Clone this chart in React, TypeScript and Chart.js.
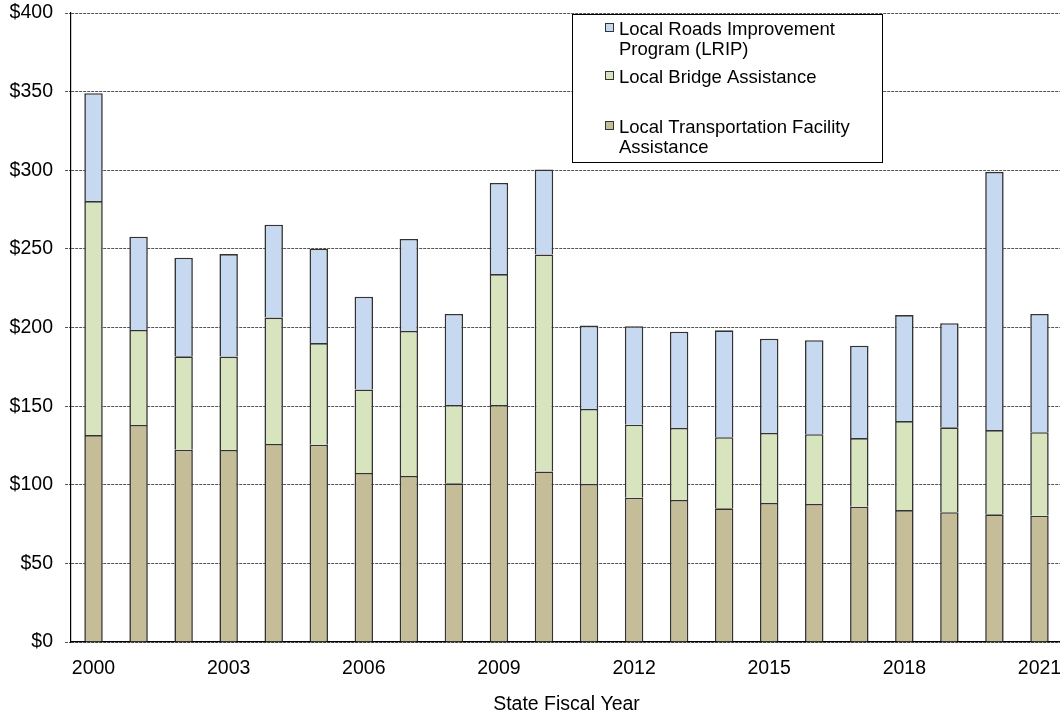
import React, { useEffect, useRef } from "react";
import { Chart, registerables } from "chart.js";

Chart.register(...registerables);

const years = ["2000","2001","2002","2003","2004","2005","2006","2007","2008","2009","2010","2011","2012","2013","2014","2015","2016","2017","2018","2019","2020","2021"];

const ltfa = [131.6,138,122.3,122.1,125.9,125.5,107.5,105.6,100.9,150.7,108.5,100.5,91.8,90.3,85,88.4,87.8,86,83.9,82.5,81.2,80.3];
const bridge = [148.8,60.4,59.4,59.4,80.4,64.6,53.1,92.2,49.8,83.3,138,47.7,46.4,45.8,45.2,44.5,44.3,43.7,56.6,54,53.6,53.1];
const lrip = [68.6,59.3,62.7,65.2,59.1,60,59,58.5,57.9,57.9,53.9,53,62.6,61.2,68,60,59.8,58.7,67.4,66.2,164.2,75.2];

const seriesNames = [
  "Local Transportation Facility Assistance",
  "Local Bridge Assistance",
  "Local Roads Improvement Program (LRIP)",
];
const legendLines = [
  ["Local Roads Improvement", "Program (LRIP)"],
  ["Local Bridge Assistance"],
  ["Local Transportation Facility", "Assistance"],
];
const yTicks = [0, 50, 100, 150, 200, 250, 300, 350, 400];
const axisTitle = "State Fiscal Year";

const colors = { lrip: "#C6D9F0", bridge: "#D7E4BD", ltfa: "#C4BD97" };
const FONT = "'Liberation Sans', Arial, sans-serif";

const legendPlugin = {
  id: "boxLegend",
  afterDraw(chart: any) {
    const ctx = chart.ctx;
    ctx.save();
    const bx = 572, by = 14, bw = 310, bh = 148;
    ctx.fillStyle = "#ffffff";
    ctx.fillRect(bx, by, bw, bh);
    ctx.strokeStyle = "#000000";
    ctx.lineWidth = 1;
    ctx.strokeRect(bx + 0.5, by + 0.5, bw, bh);
    const fills = [colors.lrip, colors.bridge, colors.ltfa];
    const baselines = [[35, 55], [83], [133, 153]];
    ctx.font = `18.5px ${FONT}`;
    ctx.textBaseline = "alphabetic";
    ctx.textAlign = "left";
    legendLines.forEach((lines, i) => {
      const b0 = baselines[i][0];
      ctx.fillStyle = fills[i];
      ctx.fillRect(605, b0 - 12, 9, 9);
      ctx.strokeStyle = "#333333";
      ctx.lineWidth = 1;
      ctx.strokeRect(605.5, b0 - 11.5, 8, 8);
      ctx.fillStyle = "#000000";
      lines.forEach((t, j) => {
        ctx.fillText(t, 619, baselines[i][j]);
      });
    });
    ctx.restore();
  },
};

export default function App() {
  const ref = useRef<HTMLCanvasElement | null>(null);
  useEffect(() => {
    if (!ref.current) return;
    const mk = (label: string, data: number[], color: string) => ({
      label,
      data,
      backgroundColor: color,
      borderColor: "#333333",
      borderWidth: 1.6,
      barPercentage: 0.41,
      categoryPercentage: 1,
    });
    const chart = new Chart(ref.current, {
      type: "bar",
      data: {
        labels: years,
        datasets: [
          mk(seriesNames[0], ltfa, colors.ltfa),
          mk(seriesNames[1], bridge, colors.bridge),
          mk(seriesNames[2], lrip, colors.lrip),
        ],
      },
      plugins: [legendPlugin],
      options: {
        responsive: false,
        animation: false,
        layout: { padding: { top: 13, right: 8, left: 0, bottom: 0 } },
        plugins: {
          legend: { display: false },
          tooltip: { enabled: false },
        },
        scales: {
          x: {
            stacked: true,
            grid: { display: false, drawTicks: false },
            border: { display: true, color: "#000000", width: 1.2 },
            ticks: {
              autoSkip: false,
              maxRotation: 0,
              padding: 15,
              color: "#000000",
              font: { family: FONT, size: 19.5 },
              callback: (_v: any, i: number) => (i % 3 === 0 ? years[i] : ""),
            },
            title: {
              display: true,
              text: axisTitle,
              color: "#000000",
              font: { family: FONT, size: 19.5 },
              padding: { top: 0, bottom: 0.5 },
            },
            afterFit: (s: any) => {
              s.height = 75;
              s.paddingLeft = 0;
              s.paddingRight = 0;
            },
          },
          y: {
            stacked: true,
            min: 0,
            max: 400,
            afterBuildTicks: (s: any) => {
              s.ticks = yTicks.map((v) => ({ value: v }));
            },
            grid: {
              color: "#555555",
              lineWidth: 1,
              tickLength: 6,
              tickColor: "#555555",
              tickBorderDash: [3, 1],
            },
            border: { display: true, color: "#000000", width: 1.2, dash: [3, 1] },
            ticks: {
              padding: 12,
              color: "#000000",
              font: { family: FONT, size: 19.5 },
              callback: (v: any) => "$" + v,
            },
            afterFit: (s: any) => {
              s.width = 71;
              s.paddingTop = 0;
              s.paddingBottom = 0;
            },
          },
        },
      },
    });
    return () => chart.destroy();
  }, []);
  return (
    <div
      style={{
        position: "fixed",
        left: 0,
        top: 0,
        width: 1060,
        height: 717,
        overflow: "hidden",
        background: "#ffffff",
      }}
    >
      <canvas ref={ref} width={1070} height={717} style={{ display: "block" }} />
    </div>
  );
}
